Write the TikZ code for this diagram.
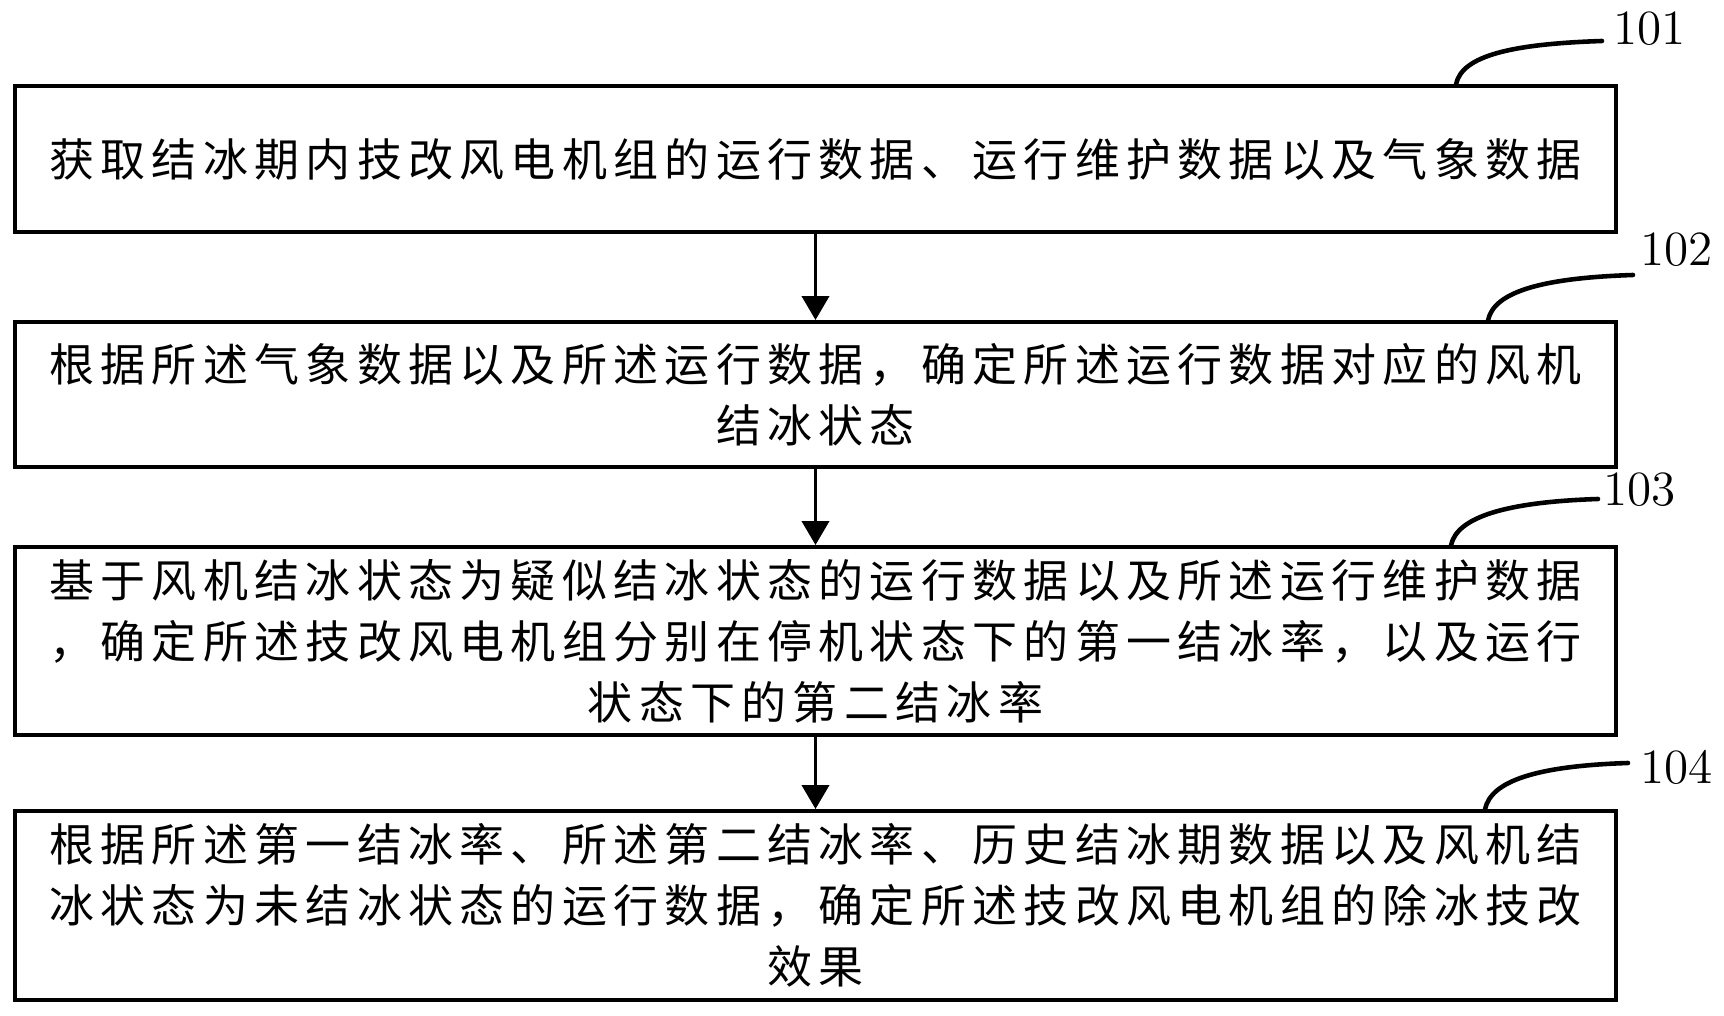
\documentclass[tikz,border=0pt]{standalone}
\usepackage{fontspec}
\newfontfamily\cjk[LetterSpace=14]{Noto Sans CJK SC}
\usetikzlibrary{arrows.meta, positioning, calc}

\begin{document}
\begin{tikzpicture}[x=0.1mm, y=-0.1mm,
  stepbox/.style={draw, line width=1.1pt, minimum width=160.1mm, inner sep=0pt, align=center,
    font=\cjk\fontsize{12.8pt}{17.4pt}\selectfont},
  flow/.style={line width=1.1pt, -{Triangle[width=2.7mm, length=2.4mm]}},
  lead/.style={line width=1.3pt, line cap=round},
  tag/.style={anchor=west, inner sep=0pt, font=\fontsize{14pt}{16pt}\selectfont}]
  \useasboundingbox (0,0) rectangle (1724,1016);

  \node[stepbox, minimum height=14.6mm] (s1) at (815.5,159)
    {获取结冰期内技改风电机组的运行数据、运行维护数据以及气象数据};
  \node[stepbox, minimum height=14.5mm] (s2) at (815.5,394.5)
    {根据所述气象数据以及所述运行数据，确定所述运行数据对应的风机\\结冰状态};
  \node[stepbox, minimum height=18.8mm] (s3) at (815.5,641)
    {基于风机结冰状态为疑似结冰状态的运行数据以及所述运行维护数据\\，确定所述技改风电机组分别在停机状态下的第一结冰率，以及运行\\状态下的第二结冰率};
  \node[stepbox, minimum height=18.9mm] (s4) at (815.5,905.5)
    {根据所述第一结冰率、所述第二结冰率、历史结冰期数据以及风机结\\冰状态为未结冰状态的运行数据，确定所述技改风电机组的除冰技改\\效果};

  \draw[flow] (s1) -- (s2);
  \draw[flow] (s2) -- (s3);
  \draw[flow] (s3) -- (s4);

  % step numbers
  \coordinate (e1) at (1602,41);
  \coordinate (e2) at (1633,275);
  \coordinate (e3) at (1598,499);
  \coordinate (e4) at (1628,763);
  \draw[lead] ($(s1.north west)+(1443,0)$) .. controls +(6,-28) and +(-92,3) .. (e1);
  \draw[lead] ($(s2.north west)+(1475,0)$) .. controls +(6,-28) and +(-92,3) .. (e2);
  \draw[lead] ($(s3.north west)+(1438,0)$) .. controls +(6,-28) and +(-92,3) .. (e3);
  \draw[lead] ($(s4.north west)+(1472,0)$) .. controls +(6,-28) and +(-92,3) .. (e4);
  \node[tag] (n1) at ($(e1)+(11,-12)$) {101};
  \node[tag] (n2) at ($(e2)+(7,-25)$) {102};
  \node[tag] (n3) at ($(e3)+(5,-9)$) {103};
  \node[tag] (n4) at ($(e4)+(12,4)$) {104};
\end{tikzpicture}
\end{document}
